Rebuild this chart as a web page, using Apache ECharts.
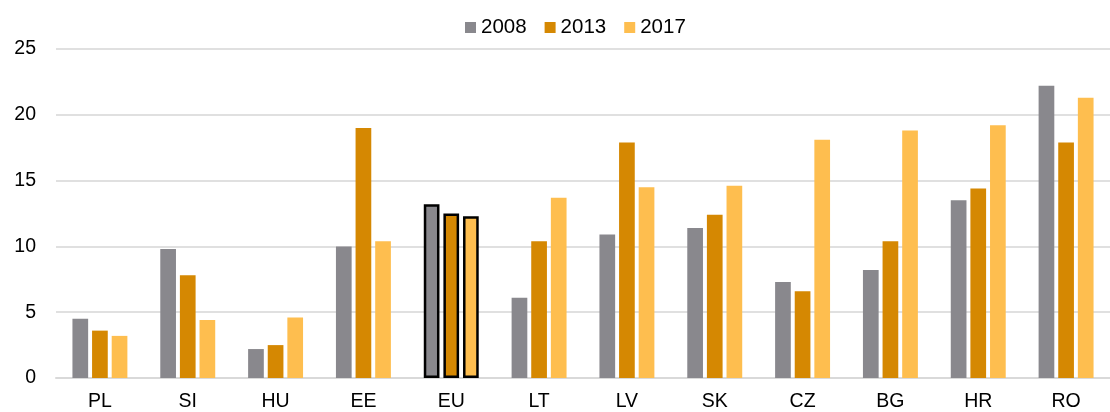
<!DOCTYPE html>
<html>
<head>
<meta charset="utf-8">
<script src="https://cdn.jsdelivr.net/npm/echarts@6/dist/echarts.min.js"></script>
<style>
  html, body { margin: 0; padding: 0; background: #fff; }
  #chart { width: 1110px; height: 412px; }
</style>
</head>
<body>
<div id="chart"></div>
<script>
// categories and values
const countries = ['PL', 'SI', 'HU', 'EE', 'EU', 'LT', 'LV', 'SK', 'CZ', 'BG', 'HR', 'RO']
const y2008 = [4.5, 9.8, 2.2, 10.0, 13.2, 6.1, 10.9, 11.4, 7.3, 8.2, 13.5, 22.2]
const y2013 = [3.6, 7.8, 2.5, 19.0, 12.5, 10.4, 17.9, 12.4, 6.6, 10.4, 14.4, 17.9]
const y2017 = [3.2, 4.4, 4.6, 10.4, 12.3, 13.7, 14.5, 14.6, 18.1, 18.8, 19.2, 21.3]

const colors = ['#89888d', '#d58802', '#febe4f']
const highlight = 'EU' // bars with black outline

function toData (values) {
  return values.map((v, i) => {
    if (countries[i] !== highlight) return v
    return { value: v, itemStyle: { borderColor: '#000', borderWidth: 2.5 } }
  })
}

const myChart = echarts.init(document.getElementById('chart'))
myChart.setOption({
  animation: false,
  textStyle: { fontFamily: 'Liberation Sans, Arial, sans-serif' },
  color: colors,
  legend: {
    top: 12,
    left: 460,
    itemWidth: 11,
    itemHeight: 11,
    itemGap: 18,
    icon: 'rect',
    textStyle: { fontSize: 20.5, color: '#000' }
  },
  grid: { left: 56, right: -10, top: 49, bottom: 33, containLabel: false },
  xAxis: {
    type: 'category',
    data: countries,
    axisLine: { lineStyle: { color: '#d9d9d9', width: 2 } },
    axisTick: { show: false },
    axisLabel: { fontSize: 19.5, color: '#000', margin: 14 }
  },
  yAxis: {
    type: 'value',
    min: 0,
    max: 25,
    interval: 5,
    axisLine: { show: false },
    axisTick: { show: false },
    axisLabel: { fontSize: 19.5, color: '#000', margin: 20 },
    splitLine: { lineStyle: { color: '#d6d6d6', width: 1.5 } }
  },
  series: [
    { name: '2008', type: 'bar', barWidth: 15.7, barGap: '25%', data: toData(y2008) },
    { name: '2013', type: 'bar', barWidth: 15.7, barGap: '25%', data: toData(y2013) },
    { name: '2017', type: 'bar', barWidth: 15.7, barGap: '25%', data: toData(y2017) }
  ]
})
</script>
</body>
</html>
